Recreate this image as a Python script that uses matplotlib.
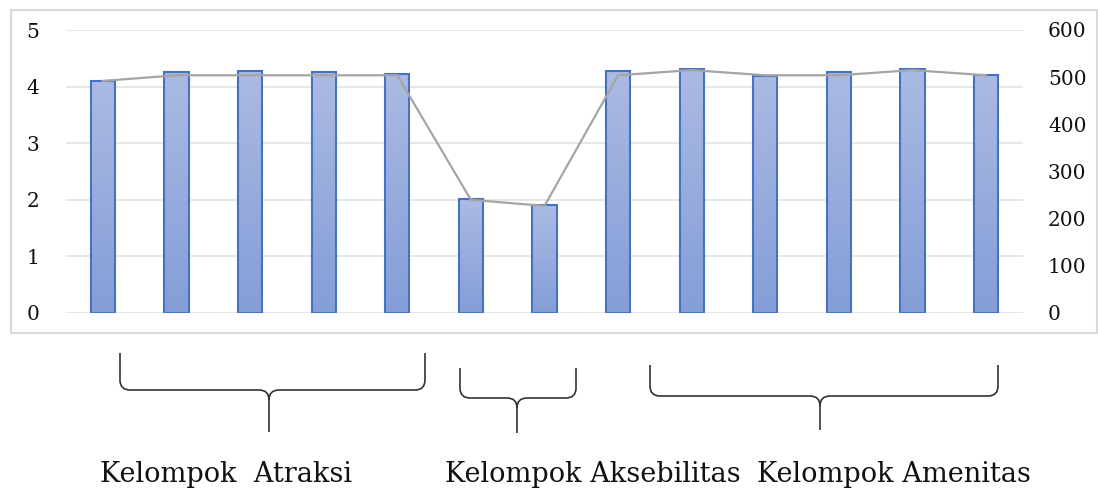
import matplotlib.pyplot as plt
import numpy as np
from matplotlib.path import Path
from matplotlib.patches import PathPatch, Rectangle

# Data
bar_values = [4.10, 4.25, 4.28, 4.25, 4.23, 2.01, 1.90, 4.27, 4.31, 4.19, 4.25, 4.31, 4.20]
line_values = [492, 504, 504, 504, 504, 240, 227, 504, 515, 504, 504, 515, 504]
group_labels = ['Kelompok  Atraksi', 'Kelompok Aksebilitas', 'Kelompok Amenitas']

W, H = 1098, 488
fig = plt.figure(figsize=(W / 100, H / 100), dpi=100)

def fx(px):
    return px / W

def fy(py):
    return 1 - py / H

# outer chart frame
fig.patches.append(Rectangle((fx(11), fy(333)), fx(1097) - fx(11), fy(10) - fy(333),
                             transform=fig.transFigure, fill=False,
                             edgecolor='#D9D9D9', lw=1.5))

ax = fig.add_axes([fx(66), fy(313), fx(1023) - fx(66), fy(30) - fy(313)])
x = np.arange(len(bar_values)) + 0.5
ax.set_yticks(range(6))
ax.set_xticks([])
ax.grid(axis='y', color='#E3E3E3', lw=1.2)
ax.set_axisbelow(True)
for s in ax.spines.values():
    s.set_visible(False)
ax.tick_params(axis='y', length=0, pad=19, labelsize=14.5, labelcolor='#111111')
for lab in ax.get_yticklabels():
    lab.set_fontfamily('DejaVu Serif')

# gradient bars
grad = np.linspace(0, 1, 100).reshape(-1, 1)
cmap = plt.matplotlib.colors.LinearSegmentedColormap.from_list('g', ['#849ED8', '#ABBAE2'])
bars = ax.bar(x, bar_values, width=0.33, color='none', edgecolor='#4472C4', lw=1.5, zorder=3)
for b in bars:
    bx, by, bw, bh = b.get_x(), b.get_y(), b.get_width(), b.get_height()
    im = ax.imshow(grad, cmap=cmap, origin='lower', aspect='auto',
                   extent=[bx, bx + bw, by, by + bh], zorder=2)
    im.set_clip_path(b)
ax.set_xlim(0, len(bar_values))
ax.set_ylim(0, 5)

ax2 = ax.twinx()
ax2.plot(x, line_values, color='#A5A5A5', lw=1.6, zorder=4)
ax2.set_ylim(0, 600)
ax2.set_yticks(range(0, 601, 100))
for s in ax2.spines.values():
    s.set_visible(False)
ax2.tick_params(axis='y', length=0, pad=18, labelsize=14.5, labelcolor='#111111')
for lab in ax2.get_yticklabels():
    lab.set_fontfamily('DejaVu Serif')

# braces (pixel coords: left, right, centre, top, horizontal, bottom)
braces = [(120, 425, 269, 353, 390, 432),
          (460, 576, 517, 368, 398, 433),
          (650, 998, 820, 365, 396, 430)]
r = 10
for xl, xr, xc, yt, yh, yb in braces:
    pts = [(xl, yt), (xl, yh - r), (xl, yh), (xl + r, yh),
           (xc - r, yh), (xc, yh), (xc, yh + r), (xc, yb),
           (xc, yh + r), (xc, yh), (xc + r, yh),
           (xr - r, yh), (xr, yh), (xr, yh - r), (xr, yt)]
    codes = [Path.MOVETO, Path.LINETO, Path.CURVE3, Path.CURVE3,
             Path.LINETO, Path.CURVE3, Path.CURVE3, Path.LINETO,
             Path.MOVETO, Path.CURVE3, Path.CURVE3,
             Path.LINETO, Path.CURVE3, Path.CURVE3, Path.LINETO]
    verts = [(fx(a), fy(b)) for a, b in pts]
    fig.patches.append(PathPatch(Path(verts, codes), transform=fig.transFigure,
                                 fill=False, edgecolor='#333333', lw=1.2))

label_x = [100, 445, 757]
for lx, txt in zip(label_x, group_labels):
    fig.text(fx(lx), fy(482), txt, ha='left', va='baseline',
             fontsize=19.5, family='DejaVu Serif', color='#111111')

plt.savefig('out.png', dpi=100)
